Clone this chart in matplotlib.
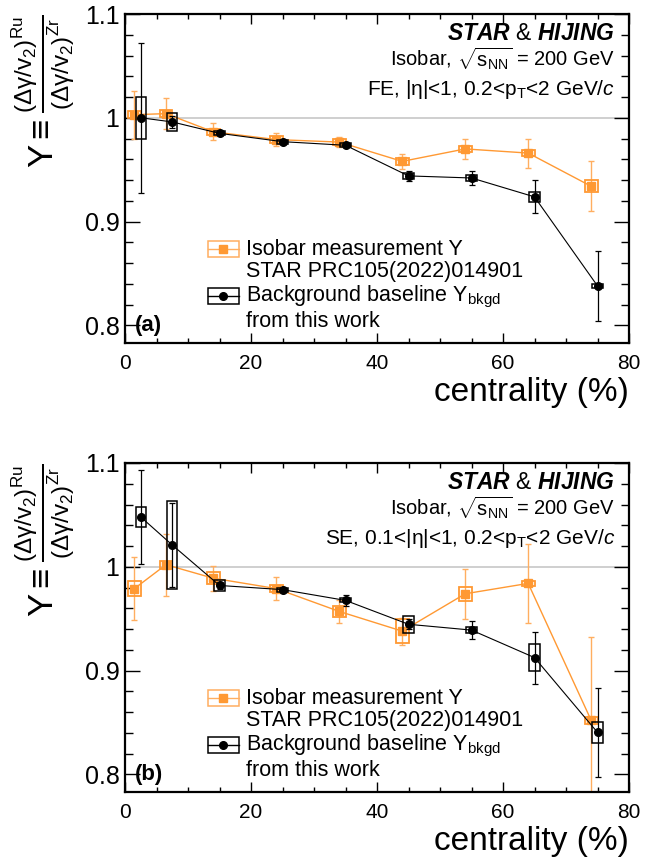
import matplotlib
matplotlib.use('Agg')
import matplotlib.pyplot as plt
from matplotlib.patches import Rectangle
from matplotlib.lines import Line2D
from matplotlib.ticker import MultipleLocator

plt.rcParams['font.family'] = ['Liberation Sans', 'DejaVu Sans']
plt.rcParams['mathtext.fontset'] = 'custom'
plt.rcParams['mathtext.rm'] = 'Liberation Sans'
plt.rcParams['mathtext.it'] = 'Liberation Sans:italic'
plt.rcParams['mathtext.bf'] = 'Liberation Sans:bold'
plt.rcParams['mathtext.bfit'] = 'Liberation Sans:bold:italic'
plt.rcParams['mathtext.default'] = 'regular'

# ---------------- data ----------------
cent_meas = [1.5, 6.5, 14, 24, 34, 44, 54, 64, 74]
cent_bkg = [2.5, 7.5, 15, 25, 35, 45, 55, 65, 75]

# panel (a): FE
Y_meas_a = [1.003, 1.004, 0.9865, 0.979, 0.9766, 0.958, 0.970, 0.966, 0.934]
stat_meas_a = [0.023, 0.015, 0.008, 0.006, 0.005, 0.007, 0.010, 0.014, 0.024]
sys_meas_a = [0.0035, 0.0037, 0.003, 0.003, 0.003, 0.0035, 0.003, 0.003, 0.0056]
Y_bkg_a = [1.000, 0.996, 0.985, 0.977, 0.9735, 0.944, 0.942, 0.9238, 0.838]
stat_bkg_a = [0.072, 0.006, 0.002, 0.002, 0.002, 0.005, 0.007, 0.016, 0.034]
sys_bkg_a = [0.020, 0.009, 0.002, 0.002, 0.002, 0.003, 0.003, 0.005, 0.002]

# panel (b): SE
Y_meas_b = [0.979, 1.002, 0.989, 0.979, 0.957, 0.938, 0.974, 0.984, 0.852]
stat_meas_b = [0.030, 0.030, 0.012, 0.011, 0.011, 0.013, 0.024, 0.038, 0.080]
sys_meas_b = [0.0075, 0.004, 0.0056, 0.003, 0.0053, 0.0115, 0.007, 0.0027, 0.003]
Y_bkg_b = [1.048, 1.021, 0.982, 0.978, 0.9676, 0.9446, 0.939, 0.9125, 0.8404]
stat_bkg_b = [0.045, 0.040, 0.003, 0.002, 0.005, 0.005, 0.009, 0.025, 0.043]
sys_bkg_b = [0.010, 0.042, 0.005, 0.002, 0.002, 0.008, 0.003, 0.013, 0.010]

panel_labels = ['(a)', '(b)']
cuts = [r'FE, |η|<1, 0.2<p$_{T}$<2 GeV/$\mathit{c}$',
        r'SE, 0.1<|η|<1, 0.2<p$_{T}$<2 GeV/$\mathit{c}$']
leg_texts = ['Isobar measurement Y', 'STAR PRC105(2022)014901',
             r'Background baseline Y$_{\mathrm{bkgd}}$', 'from this work']

ORANGE = '#FF9933'
ORANGE_L = '#FFAE60'
BW_MEAS = 1.0
BW_BKG = 0.8

fig = plt.figure(figsize=(6.5, 8.58), dpi=100)
W, H = 650, 858


def px_axes(left, top, right, bottom):
    return [left / W, 1 - bottom / H, (right - left) / W, (bottom - top) / H]


axes_rects = [px_axes(125, 14, 629, 343), px_axes(125, 463, 629, 792)]
datasets = [
    (Y_meas_a, stat_meas_a, sys_meas_a, Y_bkg_a, stat_bkg_a, sys_bkg_a),
    (Y_meas_b, stat_meas_b, sys_meas_b, Y_bkg_b, stat_bkg_b, sys_bkg_b),
]

for i, rect in enumerate(axes_rects):
    ym, sm, sym, yb, sb, syb = datasets[i]
    ax = fig.add_axes(rect)
    ax.set_xlim(0, 80)
    ax.set_ylim(0.783, 1.1)
    ax.axhline(1.0, color='#cccccc', lw=1.3, zorder=1)

    # measurement
    ax.plot(cent_meas, ym, color=ORANGE, lw=1.0, zorder=2)
    ax.errorbar(cent_meas, ym, yerr=sm, fmt='none', ecolor=ORANGE_L,
                elinewidth=1.0, capsize=2, capthick=1.0, zorder=2)
    for x, y, s in zip(cent_meas, ym, sym):
        ax.add_patch(Rectangle((x - BW_MEAS, y - s), 2 * BW_MEAS, 2 * s,
                               fill=False, ec=ORANGE, lw=1.3, zorder=3))
    ax.plot(cent_meas, ym, ls='none', marker='s', ms=5.5, color=ORANGE,
            mec=ORANGE, zorder=4)

    # background baseline
    ax.plot(cent_bkg, yb, color='black', lw=0.8, zorder=5)
    ax.errorbar(cent_bkg, yb, yerr=sb, fmt='none', ecolor='black',
                elinewidth=0.9, capsize=2, capthick=0.9, zorder=5)
    for x, y, s in zip(cent_bkg, yb, syb):
        ax.add_patch(Rectangle((x - BW_BKG, y - s), 2 * BW_BKG, 2 * s,
                               fill=False, ec='black', lw=1.1, zorder=6))
    ax.plot(cent_bkg, yb, ls='none', marker='o', ms=5.5, color='black',
            zorder=7)

    # ticks
    ax.xaxis.set_major_locator(MultipleLocator(20))
    ax.xaxis.set_minor_locator(MultipleLocator(5))
    ax.yaxis.set_major_locator(MultipleLocator(0.1))
    ax.yaxis.set_minor_locator(MultipleLocator(0.02))
    ax.tick_params(axis='both', which='both', direction='in', top=True,
                   right=True, width=1.0)
    ax.tick_params(axis='x', which='major', length=7, labelsize=15, pad=8)
    ax.tick_params(axis='x', which='minor', length=3.8)
    ax.tick_params(axis='y', which='major', length=11, labelsize=18, pad=4)
    ax.tick_params(axis='y', which='minor', length=6)
    ax.set_yticks([0.8, 0.9, 1.0, 1.1])
    ax.set_yticklabels(['0.8', '0.9', '1', '1.1'])
    for sp in ax.spines.values():
        sp.set_linewidth(1.6)

    # axis titles
    ax.text(1.0, -0.175, 'centrality (%)', transform=ax.transAxes,
            ha='right', va='baseline', fontsize=24)
    ax.text(-0.162, 1.0,
            r'$\mathrm{Y} \equiv \frac{(\Delta\gamma/\mathrm{v}_{2})^{\mathrm{Ru}}}{(\Delta\gamma/\mathrm{v}_{2})^{\mathrm{Zr}}}$',
            transform=ax.transAxes, rotation=90, ha='center', va='top',
            fontsize=25)

    # header texts
    ax.text(0.972, 0.921, r'$\mathbfit{STAR}$ & $\mathbfit{HIJING}$',
            transform=ax.transAxes, ha='right', va='baseline', fontsize=16.5)
    ax.text(0.972, 0.840, r'Isobar, $\sqrt{s_{NN}}$ = 200 GeV',
            transform=ax.transAxes, ha='right', va='baseline', fontsize=14.5)
    ax.text(0.972, 0.755, cuts[i], transform=ax.transAxes, ha='right',
            va='baseline', fontsize=15)

    # panel label
    ax.text(0.02, 0.035, panel_labels[i], transform=ax.transAxes,
            ha='left', va='baseline', fontsize=16, fontweight='bold')

    # legend (drawn manually, ROOT style)
    bx, bw, bh = 0.195, 0.031, 0.025
    for yc, col, ecol, mk in [(0.286, ORANGE, ORANGE_L, 's'),
                              (0.143, 'black', 'black', 'o')]:
        ax.add_patch(Rectangle((bx - bw, yc - bh), 2 * bw, 2 * bh,
                               transform=ax.transAxes, fill=False, ec=ecol,
                               lw=1.1, clip_on=False, zorder=8))
        ax.add_line(Line2D([bx - bw, bx + bw], [yc, yc], transform=ax.transAxes,
                           color=ecol, lw=1.0, zorder=8))
        ax.add_line(Line2D([bx], [yc], transform=ax.transAxes, marker=mk,
                           ms=5.5, color=col, ls='none', zorder=9))
    for t, yb_ in zip(leg_texts, [0.267, 0.2015, 0.1255, 0.0495]):
        ax.text(0.241, yb_, t, transform=ax.transAxes, ha='left',
                va='baseline', fontsize=15.5)

fig.savefig('out.png', dpi=100)
